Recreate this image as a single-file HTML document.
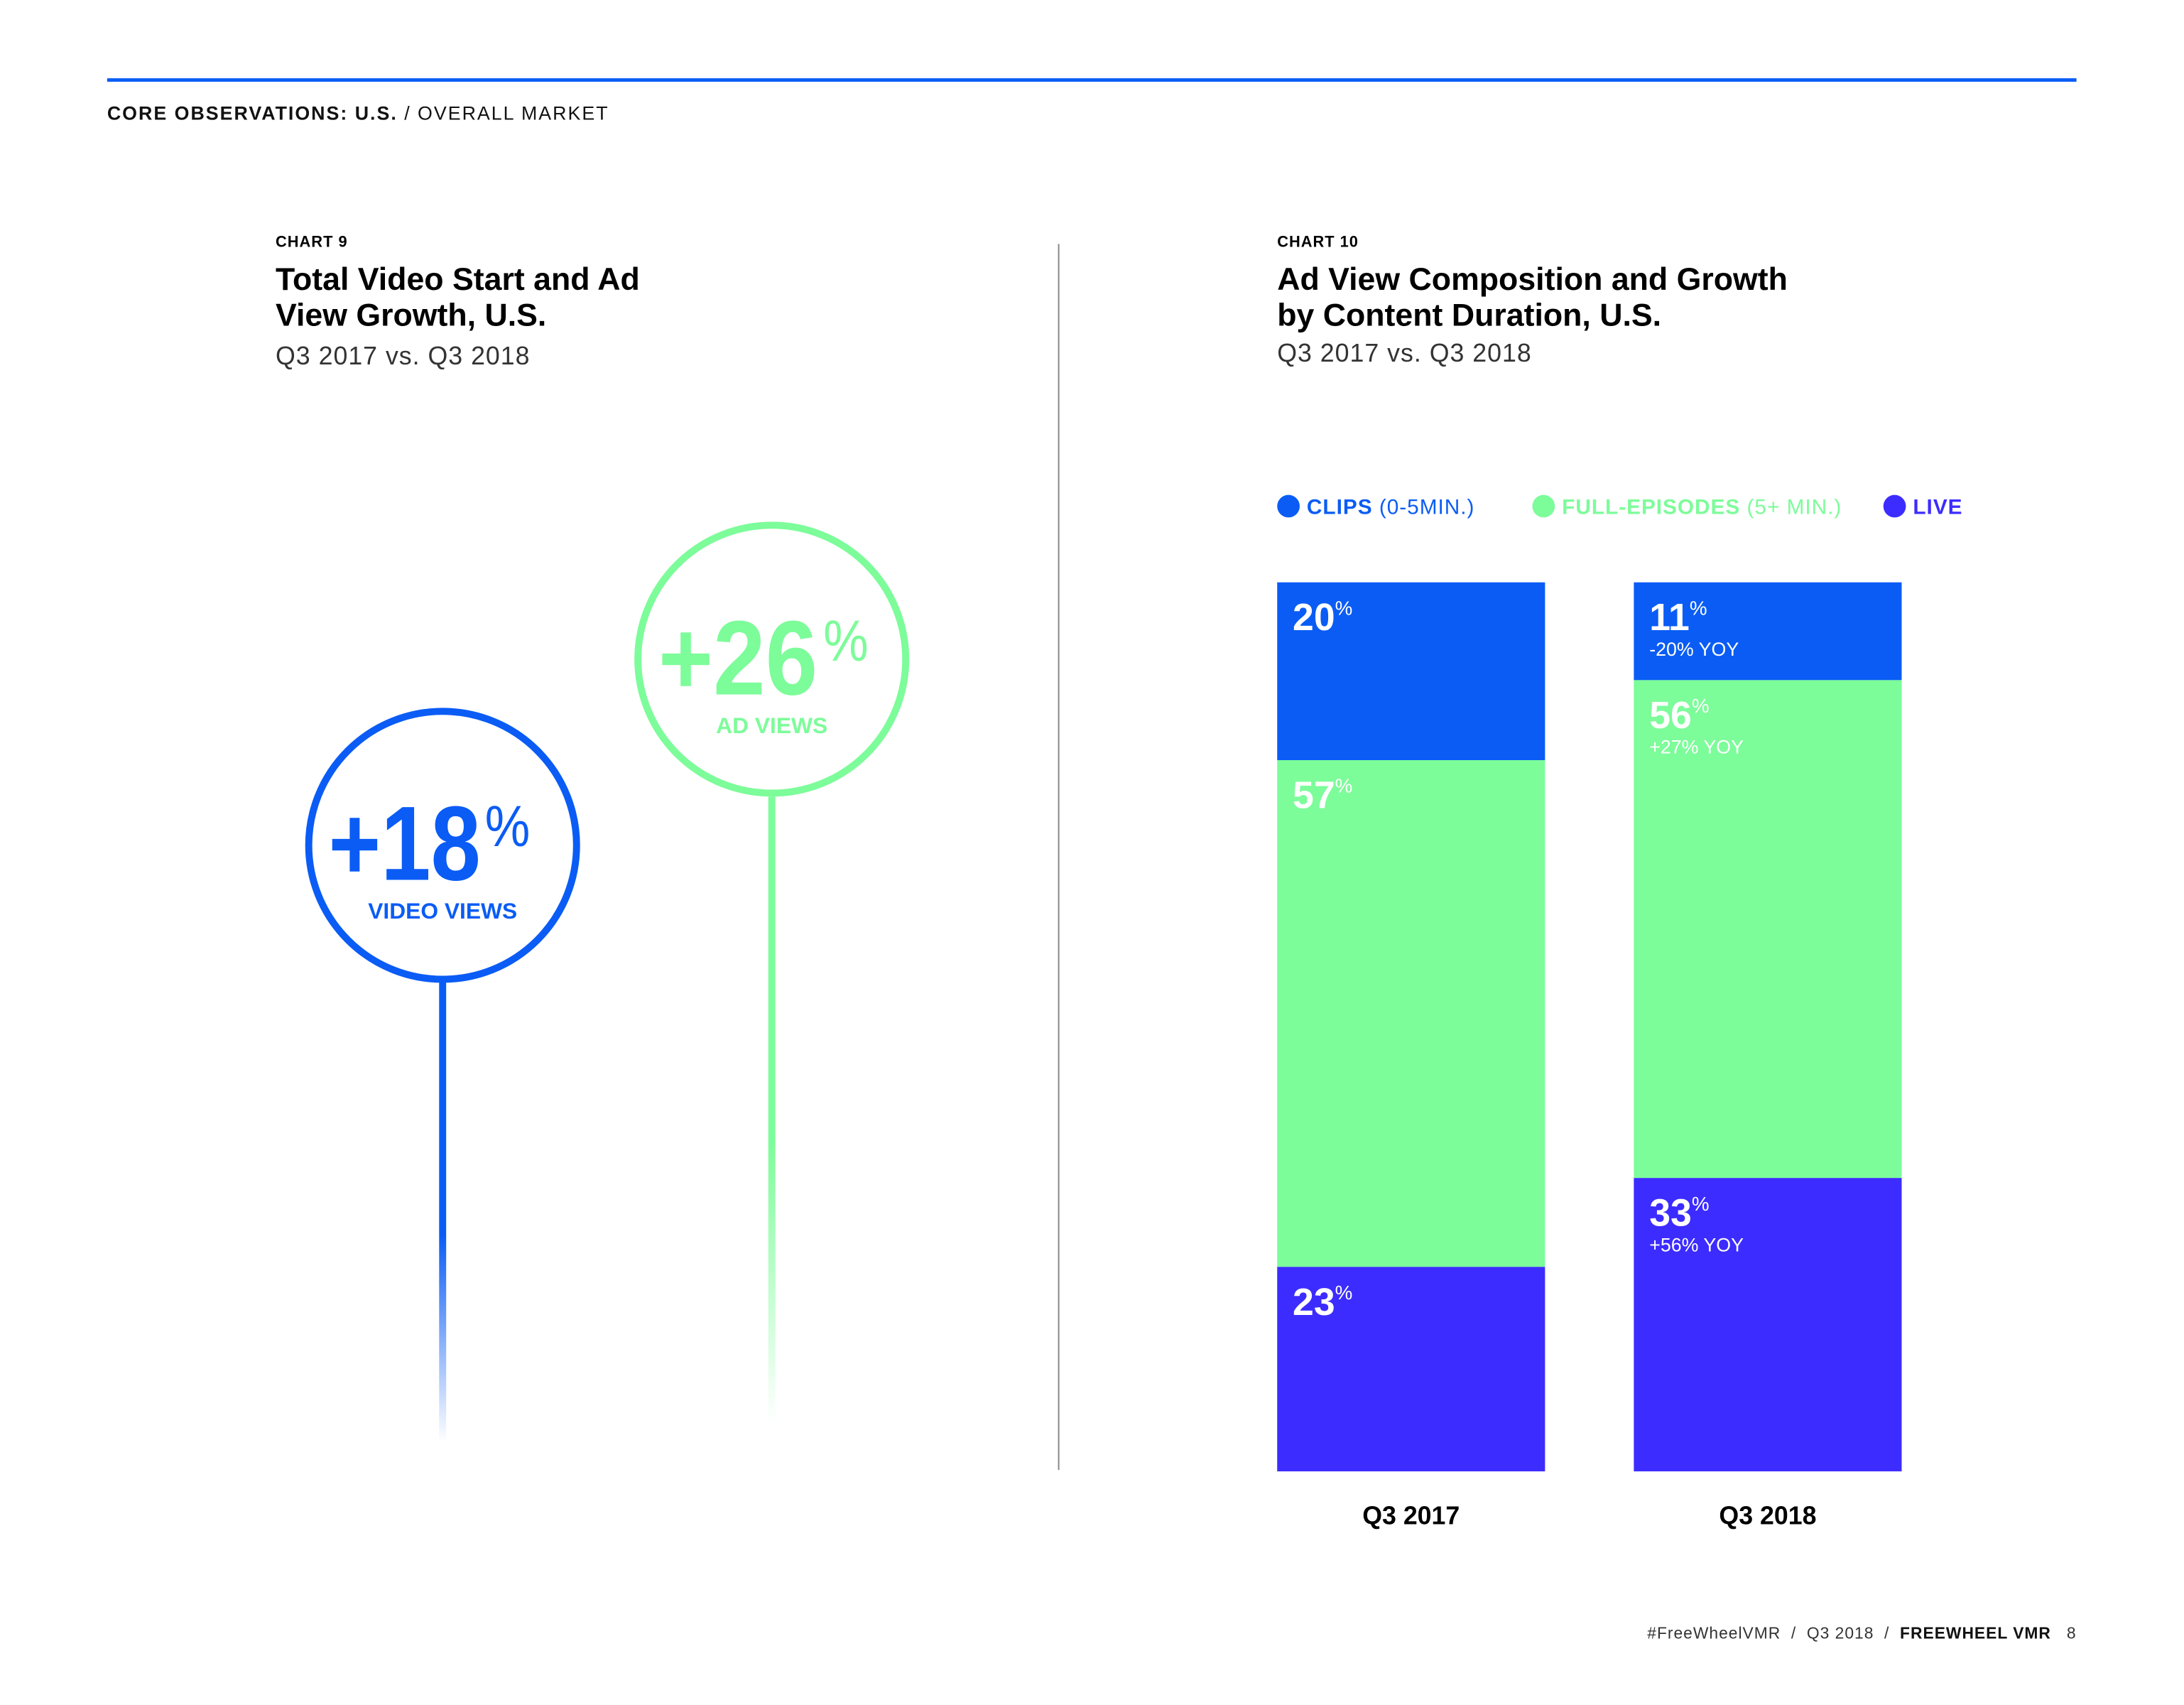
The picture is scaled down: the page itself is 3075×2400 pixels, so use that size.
<!DOCTYPE html>
<html><head><meta charset="utf-8"><style>
body{margin:0;width:3075px;height:2400px;background:#fff;font-family:"Liberation Sans",sans-serif;position:relative;overflow:hidden}
#wrap{position:absolute;left:0;top:0;width:3075px;height:2400px;transform:scale(0.9924);transform-origin:0 0}
.a{position:absolute;white-space:nowrap}
</style></head><body><div id="wrap">
<div class="a" style="left:152px;top:111px;width:2794px;height:5px;background:#0a5cf5"></div>
<div class="a" style="left:152px;top:146px;font-size:27px;letter-spacing:2px;color:#111"><b>CORE OBSERVATIONS: U.S.</b> / OVERALL MARKET</div>
<div class="a" style="left:1501px;top:346px;width:2px;height:1739px;background:#888"></div>

<div class="a" style="left:391px;top:330px;font-size:22px;font-weight:bold;letter-spacing:1px">CHART 9</div>
<div class="a" style="left:391px;top:370px;font-size:45px;font-weight:bold;line-height:51px">Total Video Start and Ad<br>View Growth, U.S.</div>
<div class="a" style="left:391px;top:484px;font-size:36px;color:#333;letter-spacing:1px">Q3 2017 vs. Q3 2018</div>

<div class="a" style="left:1812px;top:330px;font-size:22px;font-weight:bold;letter-spacing:1px">CHART 10</div>
<div class="a" style="left:1812px;top:370px;font-size:45px;font-weight:bold;line-height:51px">Ad View Composition and Growth<br>by Content Duration, U.S.</div>
<div class="a" style="left:1812px;top:480px;font-size:36px;color:#333;letter-spacing:1px">Q3 2017 vs. Q3 2018</div>

<svg class="a" style="left:0;top:0" width="3075" height="2400">
<defs>
<linearGradient id="gb" x1="0" y1="0" x2="0" y2="1"><stop offset="0.55" stop-color="#0a5cf5"/><stop offset="1" stop-color="#0a5cf5" stop-opacity="0"/></linearGradient>
<linearGradient id="gg" x1="0" y1="0" x2="0" y2="1"><stop offset="0.55" stop-color="#7dfc9a"/><stop offset="1" stop-color="#7dfc9a" stop-opacity="0"/></linearGradient>
</defs>
<rect x="623" y="1393" width="10" height="652" fill="url(#gb)"/>
<rect x="1090" y="1130" width="10" height="890" fill="url(#gg)"/>
<circle cx="628" cy="1199" r="190" fill="#fff" stroke="#0a5cf5" stroke-width="10"/>
<circle cx="1095" cy="935" r="190" fill="#fff" stroke="#7dfc9a" stroke-width="10"/>
<text x="466" y="1248" font-size="150" font-weight="bold" fill="#0a5cf5" textLength="216" lengthAdjust="spacingAndGlyphs">+18</text>
<text x="688" y="1200" font-size="82" fill="#0a5cf5" textLength="64" lengthAdjust="spacingAndGlyphs">%</text>
<text x="628" y="1303" font-size="32" font-weight="bold" fill="#0a5cf5" text-anchor="middle">VIDEO VIEWS</text>
<text x="934" y="985" font-size="150" font-weight="bold" fill="#7dfc9a" textLength="226" lengthAdjust="spacingAndGlyphs">+26</text>
<text x="1168" y="937" font-size="82" fill="#7dfc9a" textLength="64" lengthAdjust="spacingAndGlyphs">%</text>
<text x="1095" y="1040" font-size="32" font-weight="bold" fill="#7dfc9a" text-anchor="middle">AD VIEWS</text>
</svg>

<div class="a" style="left:1812px;top:702px;font-size:30px;color:#0a5cf5;letter-spacing:1px"><span style="display:inline-block;width:32px;height:32px;border-radius:50%;background:#0a5cf5;vertical-align:-5px;margin-right:10px"></span><b>CLIPS</b> (0-5MIN.)</div>
<div class="a" style="left:2174px;top:702px;font-size:30px;color:#7dfc9a;letter-spacing:1px"><span style="display:inline-block;width:32px;height:32px;border-radius:50%;background:#7dfc9a;vertical-align:-5px;margin-right:10px"></span><b>FULL-EPISODES</b> (5+ MIN.)</div>
<div class="a" style="left:2672px;top:702px;font-size:30px;color:#3c2cff;letter-spacing:1px"><span style="display:inline-block;width:32px;height:32px;border-radius:50%;background:#3c2cff;vertical-align:-5px;margin-right:10px"></span><b>LIVE</b></div>

<svg id="bars" class="a" style="left:0;top:0" width="3075" height="2400"></svg>

<div class="a" style="right:129px;top:2303px;font-size:23px;color:#333;letter-spacing:1px">#FreeWheelVMR &nbsp;/&nbsp; Q3 2018 &nbsp;/&nbsp; <b style="color:#111">FREEWHEEL VMR</b> &nbsp; 8</div>
</div>
<script>
const categories=["Q3 2017","Q3 2018"];
const clips=[20,11];
const fullEpisodes=[57,56];
const live=[23,33];
const yoyClips=["","-20% YOY"];
const yoyFull=["","+27% YOY"];
const yoyLive=["","+56% YOY"];
const svg=document.getElementById('bars');
const NS="http://www.w3.org/2000/svg";
const top0=826,bottom0=2087,barW=380;
const xPos=i=>1812+i*506;
const yScale=v=>v/100*(bottom0-top0);
const series=[[clips,"#0a5cf5",yoyClips,"clips"],[fullEpisodes,"#7dfc9a",yoyFull,"full-episodes"],[live,"#3c2cff",yoyLive,"live"]];
categories.forEach((c,i)=>{
  let y=top0;
  series.forEach(([vals,col,yoy,nm])=>{
    const h=yScale(vals[i]);
    const r=document.createElementNS(NS,'rect');
    
    
    r.setAttribute('x',xPos(i));r.setAttribute('y',y);r.setAttribute('width',barW);r.setAttribute('height',h);r.setAttribute('fill',col);
    svg.appendChild(r);
    const t=document.createElementNS(NS,'text');
    
    
    t.setAttribute('x',xPos(i)+22);t.setAttribute('y',y+68);t.setAttribute('fill','#fff');
    t.setAttribute('font-size','54');t.setAttribute('font-weight','bold');
    t.innerHTML='<tspan>'+vals[i]+'</tspan><tspan font-size="28" font-weight="normal" dy="-22">%</tspan>';
    svg.appendChild(t);
    if(yoy[i]){
      const s=document.createElementNS(NS,'text');
      
      
      s.setAttribute('x',xPos(i)+22);s.setAttribute('y',y+104);s.setAttribute('fill','#fff');s.setAttribute('font-size','27');
      s.textContent=yoy[i];svg.appendChild(s);
    }
    y+=h;
  });
  const l=document.createElementNS(NS,'text');
  
  
  l.setAttribute('x',xPos(i)+barW/2);l.setAttribute('y',2162);l.setAttribute('text-anchor','middle');
  l.setAttribute('font-size','36');l.setAttribute('font-weight','bold');l.textContent=c;
  svg.appendChild(l);
});
</script>
</body></html>
